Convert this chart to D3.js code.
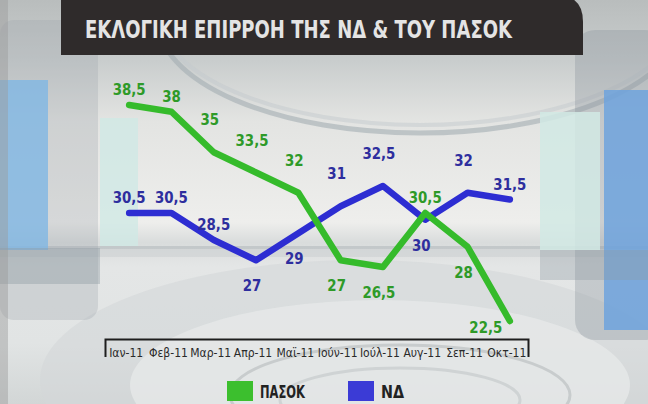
<!DOCTYPE html>
<html><head><meta charset="utf-8">
<script src="https://cdn.jsdelivr.net/npm/d3@7"></script>
<style>
html,body{margin:0;padding:0;background:#d6d9d9;}
svg{display:block;}
text{font-family:"DejaVu Sans Condensed","DejaVu Sans",sans-serif;}
</style></head>
<body>
<svg id="chart" width="648" height="404"></svg>
<script>
const months = ["Ιαν-11","Φεβ-11","Μαρ-11","Απρ-11","Μαϊ-11","Ιούν-11","Ιούλ-11","Αυγ-11","Σεπ-11","Οκτ-11"];
const pasok = [38.5, 38, 35, 33.5, 32, 27, 26.5, 30.5, 28, 22.5];
const nd = [30.5, 30.5, 28.5, 27, 29, 31, 32.5, 30, 32, 31.5];
// label placement codes: n = just above, a = well above, b = below, bl = below-left
const pasokPlace = ["n","n","a","a","a","b","b","n","b","bl"];
const ndPlace = ["n","n","n","b","b","a","a","b","a","n"];
const title = "ΕΚΛΟΓΙΚΗ ΕΠΙΡΡΟΗ ΤΗΣ ΝΔ & ΤΟΥ ΠΑΣΟΚ";
const seriesNames = ["ΠΑΣΟΚ","ΝΔ"];

const svg = d3.select("#chart");
const defs = svg.append("defs");

// ---------- background ----------
const bg = defs.append("linearGradient").attr("id","bgGrad").attr("x1",0).attr("y1",0).attr("x2",0).attr("y2",1);
[[0,"#b9bdbd"],[0.15,"#c9cdcd"],[0.3,"#e3e4e2"],[0.55,"#eeeeec"],[0.6,"#d9dcdc"],[0.66,"#e4e6e6"],[0.85,"#e1e4e4"],[1,"#d2d6d6"]]
  .forEach(([o,c])=>bg.append("stop").attr("offset",o).attr("stop-color",c));
svg.append("rect").attr("width",648).attr("height",404).attr("fill","url(#bgGrad)");

// lower floor ellipses
svg.append("ellipse").attr("cx",360).attr("cy",380).attr("rx",320).attr("ry",120).attr("fill","#d3d7d8").attr("opacity",0.6);
svg.append("ellipse").attr("cx",380).attr("cy",385).attr("rx",250).attr("ry",85).attr("fill","#e6e8e8").attr("opacity",0.8);
svg.append("ellipse").attr("cx",400).attr("cy",395).attr("rx",170).attr("ry",50).attr("fill","none").attr("stroke","#c8cccd").attr("stroke-width",3);
svg.append("ellipse").attr("cx",400).attr("cy",400).attr("rx",120).attr("ry",32).attr("fill","none").attr("stroke","#cfd3d4").attr("stroke-width",3);

// horizon band
svg.append("rect").attr("x",0).attr("y",246).attr("width",648).attr("height",3).attr("fill","#b9bfc2").attr("opacity",0.7);
svg.append("rect").attr("x",0).attr("y",249).attr("width",648).attr("height",8).attr("fill","#c9cdcf").attr("opacity",0.5);

// top ring arc
svg.append("ellipse").attr("cx",420).attr("cy",20).attr("rx",262).attr("ry",113).attr("fill","none").attr("stroke","#a3adb3").attr("stroke-width",5).attr("opacity",0.6);
svg.append("ellipse").attr("cx",420).attr("cy",12).attr("rx",262).attr("ry",113).attr("fill","none").attr("stroke","#c3cace").attr("stroke-width",4).attr("opacity",0.5);

// left panels
svg.append("rect").attr("x",0).attr("y",20).attr("width",98).attr("height",300).attr("rx",14).attr("fill","#9ea6ad").attr("opacity",0.3);
svg.append("rect").attr("x",0).attr("y",80).attr("width",48).attr("height",170).attr("fill","#7fb6e4").attr("opacity",0.8);
svg.append("rect").attr("x",100).attr("y",118).attr("width",38).attr("height",128).attr("fill","#cfe9e5").attr("opacity",0.8);
svg.append("rect").attr("x",0).attr("y",248).attr("width",100).attr("height",36).attr("fill","#8f9aa3").attr("opacity",0.4);
svg.append("rect").attr("x",0).attr("y",0).attr("width",8).attr("height",404).attr("fill","#9c9c9c").attr("opacity",0.45);

// right panels
svg.append("rect").attr("x",575).attr("y",30).attr("width",90).attr("height",310).attr("rx",20).attr("fill","#8d969e").attr("opacity",0.35);
svg.append("rect").attr("x",540).attr("y",112).attr("width",60).attr("height",138).attr("fill","#d1e9e4").attr("opacity",0.85);
svg.append("rect").attr("x",604).attr("y",90).attr("width",44).attr("height",240).attr("fill","#6ea3dd").attr("opacity",0.85);
svg.append("rect").attr("x",540).attr("y",250).attr("width",108).attr("height",30).attr("fill","#8f9aa3").attr("opacity",0.35);

// ---------- title bar ----------
svg.append("path")
  .attr("d","M61,-5 H556 Q583,-5 583,22 V55 H61 Z")
  .attr("fill","#2f2b2b");
svg.append("text").text(title)
  .attr("x",85).attr("y",38)
  .attr("font-size",25).attr("font-weight","bold")
  .attr("fill","#e4e4e4")
  .attr("textLength",427).attr("lengthAdjust","spacingAndGlyphs");

// ---------- scales ----------
const xBand = d3.scaleBand().domain(months).range([105,528]).padding(0);
const x = m => xBand(m) + xBand.bandwidth()/2 + 3;
const y = d3.scaleLinear().domain([22.5,38.5]).range([321,105]);

// ---------- axis ----------
const axis = d3.axisBottom(xBand).tickSize(0).tickSizeOuter(18).tickPadding(8);
const gAxis = svg.append("g").attr("transform","translate(0,339)").call(axis);
gAxis.select(".domain").attr("stroke","#1e1e1e").attr("stroke-width",2).attr("fill","none");
gAxis.selectAll(".tick text")
  .attr("font-size",12).attr("fill","#2a2a2a")
  .attr("font-family","'DejaVu Sans Condensed',sans-serif")
  .attr("dy","0.8em");

// ---------- lines ----------
const line = d3.line().x((d,i)=>x(months[i])).y(d=>y(d));
const series = [
  {name:seriesNames[0], values:pasok, place:pasokPlace, line:"#35bb2b", label:"#2e9a28"},
  {name:seriesNames[1], values:nd, place:ndPlace, line:"#2d2dd2", label:"#2e2e9e"}
];
const offs = {n:[0,-10], a:[-4,-27], b:[-4,31], bl:[-24,12]};

[series[1], series[0]].forEach(s=>{
  svg.append("path").datum(s.values)
    .attr("d",line).attr("fill","none")
    .attr("stroke",s.line).attr("stroke-width",6.5)
    .attr("stroke-linejoin","round").attr("stroke-linecap","round");
});

series.forEach(s=>{
  svg.append("g").selectAll("text").data(s.values).join("text")
    .attr("x",(d,i)=>x(months[i]) + offs[s.place[i]][0])
    .attr("y",(d,i)=>y(d) + offs[s.place[i]][1])
    .attr("text-anchor","middle")
    .attr("font-size",16.5).attr("font-weight","bold")
    .attr("fill",s.label)
    .text(d=>String(d).replace(".",","))
    .each(function(){
      const w = this.getComputedTextLength();
      d3.select(this).attr("textLength", w*0.9).attr("lengthAdjust","spacingAndGlyphs");
    });
});

// ---------- legend ----------
const legend = svg.append("g");
const legX = [227, 348];
series.forEach((s,i)=>{
  legend.append("rect").attr("x",legX[i]).attr("y",381).attr("width",26).attr("height",20)
    .attr("fill", i===0 ? "#3cbf2e" : "#3b3bd6");
  legend.append("text").text(s.name)
    .attr("x",legX[i]+33).attr("y",398)
    .attr("font-size",18).attr("font-weight","bold").attr("fill","#222")
    .attr("textLength", i===0 ? 45 : 23).attr("lengthAdjust","spacingAndGlyphs");
});
</script>
</body></html>
